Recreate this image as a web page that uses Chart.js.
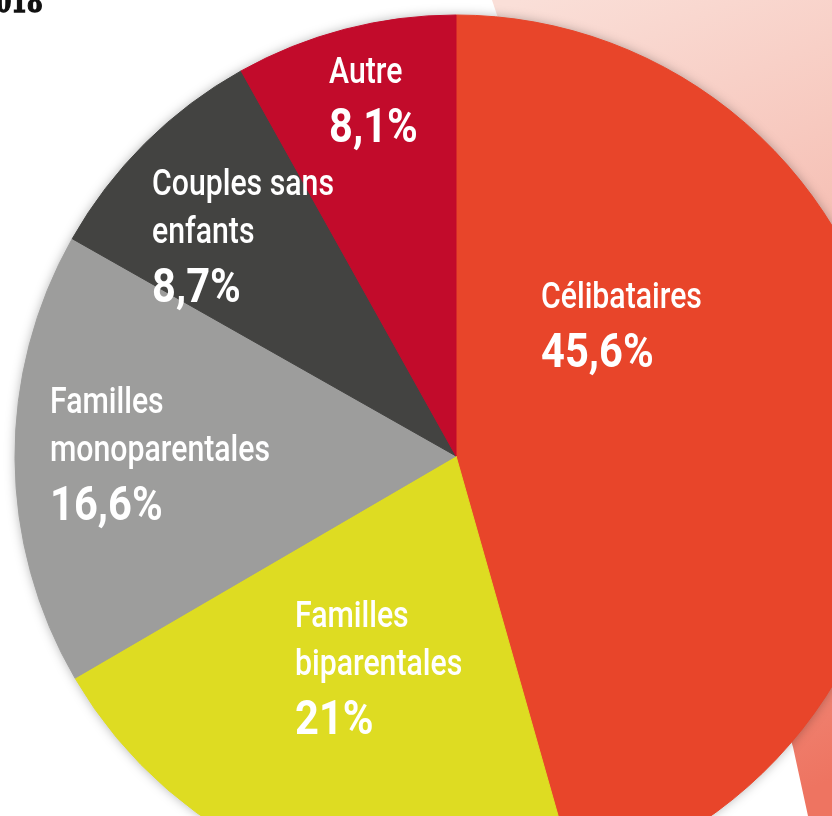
<!DOCTYPE html>
<html>
<head>
<meta charset="utf-8">
<script src="https://cdn.jsdelivr.net/npm/chart.js@4.4.0/dist/chart.umd.min.js"></script>
<style>
    html, body { margin: 0; padding: 0; background: #fff; overflow: hidden; width: 832px; height: 816px; }
    #wrap { position: relative; width: 832px; height: 816px; overflow: hidden; }
    #pieChart { position: absolute; left: 0; top: 0; }
    #title { position: absolute; left: -20px; top: -13px; font: bold 30px "DejaVu Serif"; line-height: 30px; color: #111; white-space: nowrap; transform: scaleX(0.75); transform-origin: 0 0; -webkit-text-stroke: 1.4px #111; }
</style>
</head>
<body>
<div id="wrap">
    <canvas id="pieChart" width="832" height="816"></canvas>
    <div id="title">2018</div>
</div>
<script>
var categories = ['Célibataires', 'Familles biparentales', 'Familles monoparentales', 'Couples sans enfants', 'Autre'];
var labelLines = [['Célibataires'], ['Familles', 'biparentales'], ['Familles', 'monoparentales'], ['Couples sans', 'enfants'], ['Autre']];
var shares = [45.6, 21, 16.6, 8.7, 8.1];
var sliceColors = ['#E8452A', '#DEDC22', '#9D9D9C', '#434341', '#C20B2B'];

function formatShare(v) {
    return v.toString().replace('.', ',') + '%';
}

// pink decoration behind the pie
var backdrop = {
    id: 'backdrop',
    beforeDraw: function(chart) {
        var ctx = chart.ctx;
        ctx.save();
        var grad = ctx.createLinearGradient(520, 0, 832, 780);
        grad.addColorStop(0, '#FADFD8');
        grad.addColorStop(0.45, '#F5BAAE');
        grad.addColorStop(1, '#EE7461');
        ctx.fillStyle = grad;
        ctx.beginPath();
        ctx.moveTo(492, 0);
        ctx.lineTo(832, 0);
        ctx.lineTo(832, 816);
        ctx.lineTo(808, 816);
        ctx.lineTo(793, 747);
        ctx.lineTo(700, 450);
        ctx.lineTo(497, 15);
        ctx.closePath();
        ctx.fill();
        ctx.restore();
    }
};

// soft shadow under the whole pie
var pieShadow = {
    id: 'pieShadow',
    beforeDatasetsDraw: function(chart) {
        var arc = chart.getDatasetMeta(0).data[0];
        if (!arc) return;
        var ctx = chart.ctx;
        ctx.save();
        ctx.shadowColor = 'rgba(0, 0, 0, 0.35)';
        ctx.shadowBlur = 12;
        ctx.fillStyle = '#888';
        ctx.beginPath();
        ctx.arc(arc.x, arc.y, arc.outerRadius - 1, 0, Math.PI * 2);
        ctx.fill();
        ctx.restore();
    }
};

var sliceLabels = {
    id: 'sliceLabels',
    afterDatasetsDraw: function(chart, args, opts) {
        var ctx = chart.ctx;
        var meta = chart.getDatasetMeta(0);
        meta.data.forEach(function(arc, i) {
            var x = arc.x + opts.offsets[i][0];
            var y = arc.y + opts.offsets[i][1];
            ctx.save();
            ctx.fillStyle = '#fff';
            ctx.textBaseline = 'alphabetic';
            labelLines[i].forEach(function(line, j) {
                ctx.save();
                ctx.translate(x, y + j * 48);
                ctx.scale(0.84, 1);
                ctx.font = '500 36px Roboto';
                ctx.fillText(line, 0, 0);
                ctx.restore();
            });
            ctx.translate(x, y + (labelLines[i].length - 1) * 48 + 59);
            ctx.scale(0.85, 1);
            ctx.font = 'bold 49px Roboto';
            ctx.fillText(formatShare(shares[i]), 0, 0);
            ctx.restore();
        });
    }
};

var pieChart = new Chart(document.getElementById('pieChart').getContext('2d'), {
    type: 'pie',
    data: {
        labels: categories,
        datasets: [{
            data: shares,
            backgroundColor: sliceColors,
            borderColor: sliceColors,
            borderWidth: 1
        }]
    },
    options: {
        responsive: false,
        animation: false,
        radius: 441,
        layout: { padding: { left: 80, top: 96, right: 0, bottom: 0 } },
        plugins: {
            legend: { display: false },
            tooltip: { enabled: false },
            sliceLabels: {
                offsets: [[85, -148], [-161, 171], [-406, -43], [-304, -261], [-127, -373]]
            }
        }
    },
    plugins: [backdrop, pieShadow, sliceLabels]
});
</script>
</body>
</html>
